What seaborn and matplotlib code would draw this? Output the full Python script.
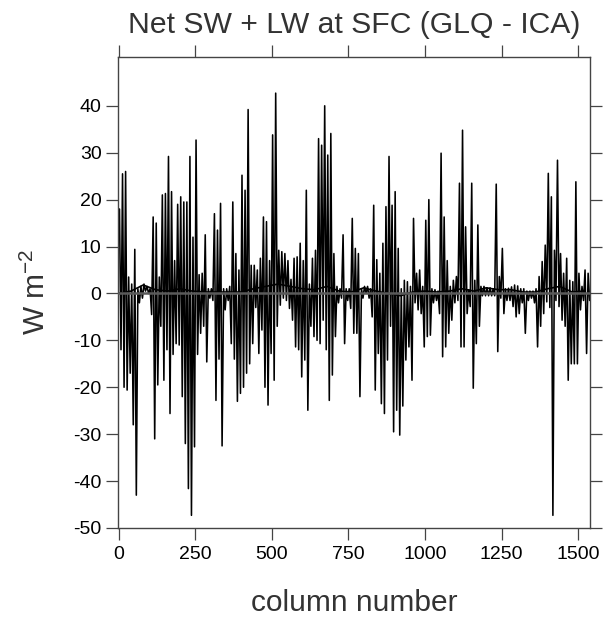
import numpy as np
import pandas as pd
import matplotlib
matplotlib.use("Agg")
import matplotlib.pyplot as plt
import seaborn as sns

# ---------------- data ----------------
# The difference trace, summarised as the upper / lower extent of the
# spiky signal in consecutive 10-column groups (column 0 .. 1540).
bin_width = 10
upper = [
    18, 25.5, 26, 3.5, 2, 9.4, 1, 1.5, 2, 1.5, 1, 16.3, 15, 3.5, 21, 21.3,
    29.2, 21.7, 7, 19, 20.6, 19.5, 19.5, 29.2, 12, 32.7, 4, 4.3, 12.5, 1,
    1, 17, 13.5, 19.2, 1, 1, 1.5, 19.5, 8.5, 5, 25.2, 22, 39.2, 6, 6, 5,
    7.5, 16.3, 15.3, 7, 33.8, 42.7, 9.2, 8.9, 8.5, 7, 3, 7.5, 7.8, 10.7, 7,
    22, 2, 7.5, 9.2, 33, 31.6, 40, 29.5, 34.1, 8.5, 1.5, 1, 12.5, 1, 1, 16,
    9.6, 8.5, 1, 1.5, 1.5, 1, 18.8, 7.2, 4.3, 10.7, 18.5, 29.2, 18.8, 21.7, 9.6,
    1, 2.8, 2.5, 1.5, 16, 4.3, 5, 1.5, 15.6, 20, 1, 0.8, 0.5, 29.9, 16.3, 7,
    1.5, 2.8, 3.6, 23.5, 34.8, 14.2, 0.8, 23.5, 2.8, 14.6, 1.5, 1.5, 1.2, 1.2, 1,
    23.3, 3.6, 9.6, 1, 1.1, 1.4, 1.8, 1.6, 1, 1, 0.5, 0.5, 0.5, 1, 3.6, 6.8,
    10.3, 25.6, 20.6, 9.2, 28.4, 8.5, 4.3, 7.5, 2.8, 2.5, 23.8, 4.3, 1.5, 5, 4.3,
]
lower = [
    -12, -20, -20.6, -17, -28, -43, -2, -1, 0.5, 0, -4.5, -31, -19.5, -7, -18.5, -12,
    -25.6, -13, -10.7, -11, -22, -32, -41.6, -47.3, -32.7, -13, -8.5, -7, -14.6, -1,
    -1.5, -22.8, -14, -32.5, -3.5, -1.5, -10.7, -14, -23, -21.3, -20, -17, -15, -10.7, -3, -12.8,
    -7.8, -20, -23.8, -12.8, -18.5, -7, -2.5, -1, -1.5, -3.2, -5.7, -11.4, -12, -17.8, -14.2,
    -24.9, -7, -9.2, -10, -10.7, -5.7, -12, -22.8, -17.4, -9.2, -2, -1, -10.7, -1.5, -3.2, -8.5,
    -8.5, -22, -1, 0, -1, -5, -20.6, -12.8, -23.5, -25.6, -14.2, -7, -29.5, -24.9, -30.2,
    -24, -14.2, -11.4, -18.5, -2, -3.5, -4.3, -11.4, -9.2, -8.9, -2, -1.5, -4.3, -13.5, -11.4, -8.5,
    -5.7, -2, -1.5, -11.4, -11.4, -4.3, -2.8, -20.2, -10.7, -7, -0.5, -0.5, -0.5, -0.5, -0.5,
    -12.4, -1, -4.3, -1.5, -1.5, -2.8, -5, -4.3, -2, -8.5, -1.5, -1, -2, -11.4, -7, -4.3,
    -1.8, -3, -47.3, -1.5, -2.8, -5.7, -7, -18.5, -15, -15, -15, -3.5, -1.5, -12.8, -1.5,
]

# Smooth (mean) difference curve near zero
smooth_cols = [0, 40, 80, 120, 160, 200, 240, 280, 320, 360, 400, 440, 480,
               520, 560, 600, 640, 680, 720, 760, 800, 840, 880, 920, 960,
               1000, 1040, 1080, 1120, 1160, 1200, 1240, 1280, 1320, 1360,
               1400, 1440, 1480, 1520]
smooth_vals = [0.0, 0.5, 1.8, 0.8, 0.5, 1.0, 0.5, 0.3, 0.3, 0.3, 0.3, 1.0, 1.5,
               2.0, 1.5, 1.0, 0.8, 1.5, 0.5, 0.3, 1.2, 0.5, 0.0, -0.5, 0.3,
               0.5, 0.3, 0.5, 1.0, 0.5, 1.2, 0.8, 0.8, 0.3, 0.3,
               1.0, 1.5, 0.3, 0.5]

x_ticks = [0, 250, 500, 750, 1000, 1250, 1500]
y_ticks = [-50, -40, -30, -20, -10, 0, 10, 20, 30, 40]

title = "Net SW + LW at SFC (GLQ - ICA)"
xlabel = "column number"
ylabel = "W m$^{\\mathregular{-2}}$"

# ---------------- build plotting table ----------------
cols, vals = [], []
for i, (u, l) in enumerate(zip(upper, lower)):
    start = i * bin_width
    cols += [start + 2.5, start + 7.5]
    vals += [u, l]
trace = pd.DataFrame({"column": cols, "diff": vals})
smooth = pd.DataFrame({"column": smooth_cols, "diff": smooth_vals})

# ---------------- style ----------------
sns.set_theme(style="ticks")
plt.rcParams["font.family"] = ["Liberation Sans", "DejaVu Sans"]
plt.rcParams["mathtext.fontset"] = "custom"
plt.rcParams["mathtext.rm"] = "Liberation Sans"
plt.rcParams["axes.unicode_minus"] = False

fig = plt.figure(figsize=(6.03, 6.22), dpi=100)
ax = fig.add_axes([118.4 / 603, 1 - 528 / 622, (589.5 - 118.4) / 603, (528 - 57) / 622])

sns.lineplot(data=trace, x="column", y="diff", ax=ax, color="black",
             linewidth=1.15, estimator=None, sort=False, zorder=2)
sns.lineplot(data=smooth, x="column", y="diff", ax=ax, color="black",
             linewidth=1.2, estimator=None, sort=False, zorder=3)
ax.axhline(0, color="#5a5a5a", linewidth=1.8, zorder=4)

ax.set_xlim(-1, 1537)
ax.set_ylim(-50, 50.4)
ax.set_xticks(x_ticks)
ax.set_yticks(y_ticks)
ax.set_xlabel("")
ax.set_ylabel("")

spine_col = "#444444"
for s in ax.spines.values():
    s.set_visible(True)
    s.set_color(spine_col)
    s.set_linewidth(1.0)

ax.tick_params(axis="both", which="major", direction="out", length=8.6,
               width=0.9, color=spine_col, labelsize=14, labelcolor="black",
               top=True, right=True, labeltop=False, labelright=False)
ax.tick_params(axis="x", pad=4.5)
ax.tick_params(axis="y", pad=3.5)

text_col = "#333333"
fig.text(0.587, 1 - 33 / 622, title, ha="center", va="baseline",
         fontsize=21.7, color=text_col)
fig.text(0.587, 1 - 611 / 622, xlabel, ha="center", va="baseline",
         fontsize=21.5, color=text_col)
fig.text(36 / 603, 1 - 292 / 622, ylabel, ha="center", va="center",
         rotation=90, fontsize=21.5, color=text_col)

fig.savefig("out.png", dpi=100)
